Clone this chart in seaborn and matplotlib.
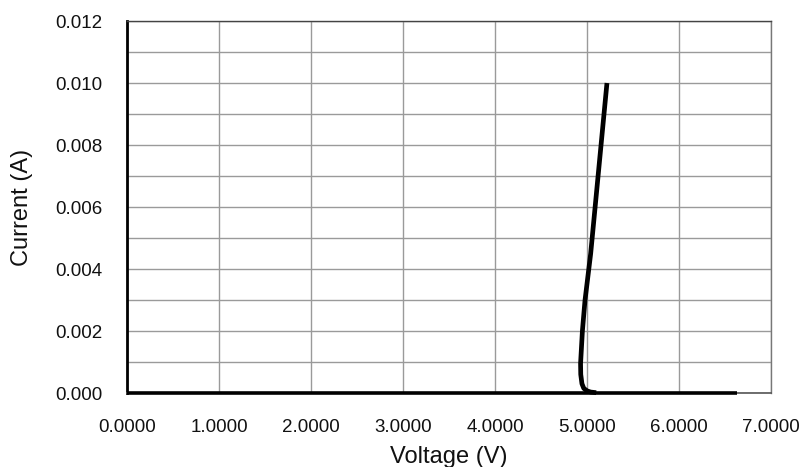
import matplotlib
matplotlib.use("Agg")
import matplotlib.pyplot as plt
import seaborn as sns
import pandas as pd
import numpy as np

# Data
flat_voltage = [0.0, 1.0, 2.0, 3.0, 4.0, 5.0, 6.0, 6.63]
flat_current = [0.0, 0.0, 0.0, 0.0, 0.0, 0.0, 0.0, 0.0]

zener_voltage = [5.217, 5.125, 5.04, 4.978, 4.95, 4.93, 4.932, 4.945, 4.965, 5.0, 5.04, 5.10]
zener_current = [0.010, 0.00714, 0.0045, 0.00298, 0.0020, 0.00095, 0.0006, 0.0003, 0.00015, 0.00007, 0.00003, 0.00001]

x_ticks = [0, 1, 2, 3, 4, 5, 6, 7]
y_ticks = [0.000, 0.002, 0.004, 0.006, 0.008, 0.010, 0.012]

df = pd.concat([
    pd.DataFrame({"Voltage": flat_voltage, "Current": flat_current, "seg": "flat"}),
    pd.DataFrame({"Voltage": zener_voltage, "Current": zener_current, "seg": "zener"}),
], ignore_index=True)

sns.set_style("white")
plt.rcParams["font.family"] = ["Liberation Sans", "DejaVu Sans"]

fig = plt.figure(figsize=(7.99, 4.67), dpi=100)
ax = fig.add_axes([127/799, 1-393/467, (771-127)/799, (393-21)/467])

ax.set_xlim(0, 7)
ax.set_ylim(0, 0.012)
ax.set_xticks(x_ticks)
ax.set_yticks(y_ticks)
ax.set_yticks(np.arange(0.001, 0.012, 0.002), minor=True)
ax.grid(True, which="major", axis="both", color="#9a9a9a", linewidth=1.0)
ax.grid(True, which="minor", axis="y", color="#9a9a9a", linewidth=1.0)
ax.set_axisbelow(True)

sns.lineplot(data=df[df.seg == "flat"], x="Voltage", y="Current", sort=False,
             estimator=None, color="black", linewidth=2.6, ax=ax, legend=False,
             clip_on=False, zorder=4, solid_capstyle="butt")
sns.lineplot(data=df[df.seg == "zener"], x="Voltage", y="Current", sort=False,
             estimator=None, color="black", linewidth=3.4, ax=ax, legend=False,
             solid_capstyle="butt", clip_on=False, zorder=4)

ax.set_xticklabels([f"{v:.4f}" for v in x_ticks])
ax.set_yticklabels([f"{v:.3f}" for v in y_ticks])
ax.tick_params(axis="both", which="both", length=0, labelsize=13.5, colors="#111111")
ax.tick_params(axis="x", pad=19)
ax.tick_params(axis="y", pad=18)

ax.set_xlabel("Voltage (V)", fontsize=17, labelpad=7, color="#111111")
ax.set_ylabel("Current (A)", fontsize=17, labelpad=16, color="#111111")

for side in ["top", "right"]:
    ax.spines[side].set_visible(True)
    ax.spines[side].set_color("#777777")
    ax.spines[side].set_linewidth(1.0)
ax.spines["top"].set_color("#444444")
ax.spines["left"].set_color("black")
ax.spines["left"].set_linewidth(2.0)
ax.spines["bottom"].set_color("#555555")
ax.spines["bottom"].set_linewidth(1.2)

fig.savefig("out.png", dpi=100)
